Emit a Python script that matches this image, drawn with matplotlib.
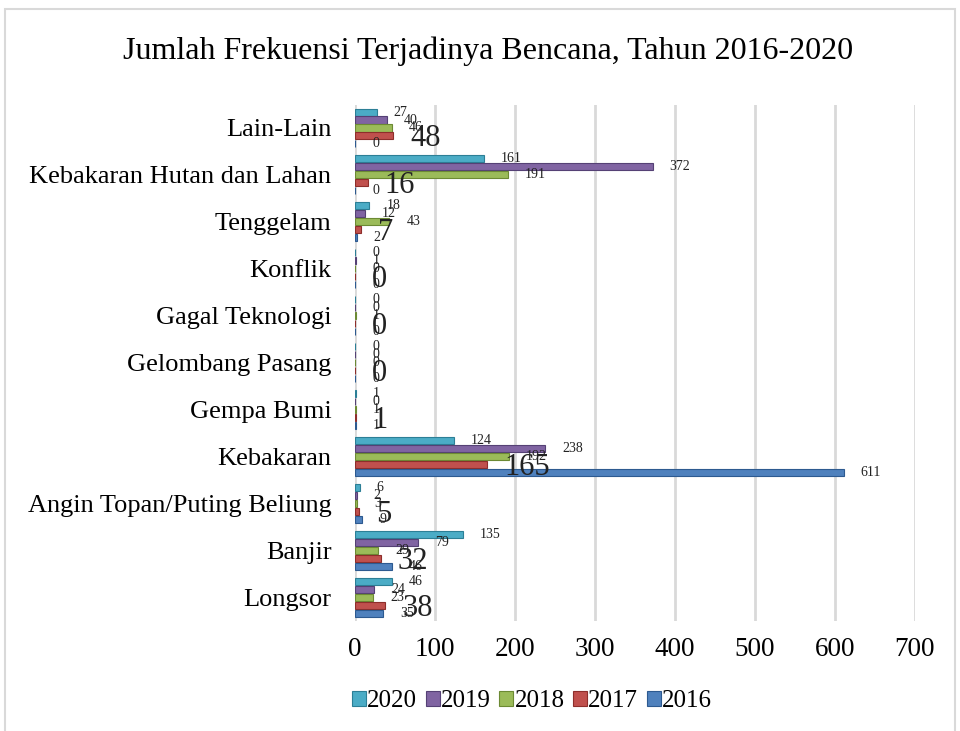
import numpy as np
import matplotlib.pyplot as plt
from matplotlib.patches import Rectangle

categories = ['Longsor', 'Banjir', 'Angin Topan/Puting Beliung', 'Kebakaran',
              'Gempa Bumi', 'Gelombang Pasang', 'Gagal Teknologi', 'Konflik',
              'Tenggelam', 'Kebakaran Hutan dan Lahan', 'Lain-Lain']
years = ['2020', '2019', '2018', '2017', '2016']
v2020 = [46, 135, 6, 124, 1, 0, 0, 0, 18, 161, 27]
v2019 = [24, 79, 2, 238, 0, 0, 0, 1, 12, 372, 40]
v2018 = [23, 29, 3, 192, 1, 0, 1, 0, 43, 191, 46]
v2017 = [38, 32, 5, 165, 1, 0, 0, 0, 7, 16, 48]
v2016 = [35, 46, 9, 611, 1, 0, 0, 0, 2, 0, 0]
values = [v2020, v2019, v2018, v2017, v2016]
colors = ['#4BACC6', '#8064A2', '#9BBB59', '#C0504D', '#4F81BD']
edges = ['#2C7F96', '#554175', '#6C8A34', '#8E2E2B', '#2D5A90']

plt.rcParams['font.family'] = ['Liberation Serif', 'DejaVu Serif']

fig = plt.figure(figsize=(9.6, 7.31), dpi=100)
ax = fig.add_axes([0.3698, 0.151, 0.5833, 0.706])

y = np.arange(len(categories))
step = 0.17
h = 0.15
for k, (yr, vals) in enumerate(zip(years, values)):
    pos = y + (2 - k) * step
    bars = ax.barh(pos, vals, height=h, color=colors[k], edgecolor=edges[k],
                   linewidth=0.8, label=yr, zorder=3)
    big = (yr == '2017')
    for b, v in zip(bars, vals):
        ax.annotate(str(v), (v, b.get_y() + h / 2),
                    xytext=(17, -3 if big else 0), textcoords='offset pixels',
                    ha='left', va='center', fontsize=22 if big else 10,
                    color='#222222', zorder=4)

ax.set_xlim(0, 700)
ax.set_ylim(-0.5, len(categories) - 0.5)
ax.set_xticks(range(0, 701, 100))
ax.set_yticks(y)
ax.set_yticklabels(categories)
ax.tick_params(axis='x', length=0, pad=12, labelsize=19.5)
ax.tick_params(axis='y', length=0, pad=17, labelsize=19)
ax.grid(axis='x', color='#D9D9D9', linewidth=2, zorder=0)
for s in ax.spines.values():
    s.set_visible(False)

fig.text(0.508, 1 - 51 / 731, 'Jumlah Frekuensi Terjadinya Bencana, Tahun 2016-2020',
         ha='center', va='center', fontsize=23)

fig.legend(loc='center', bbox_to_anchor=(532 / 960, 1 - 701 / 731), ncol=5,
           frameon=False, fontsize=18, handlelength=0.55, handleheight=0.55,
           handletextpad=0.05, columnspacing=0.35)

fig.patches.append(Rectangle((5 / 960, -0.01), 950 / 960, 1 - 9 / 731 + 0.01,
                             transform=fig.transFigure, fill=False,
                             edgecolor='#D9D9D9', linewidth=1.5))

fig.savefig('out.png', dpi=100)
